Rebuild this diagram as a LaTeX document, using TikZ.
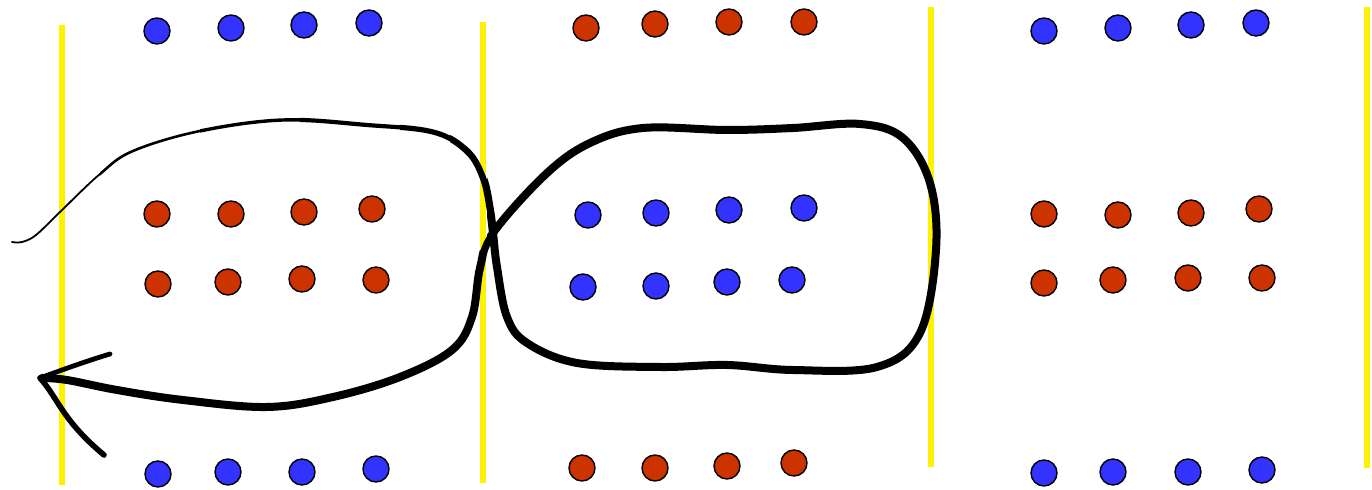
\documentclass[tikz,border=0pt]{standalone}
\begin{document}
\begin{tikzpicture}[x=0.5pt,y=-0.5pt,
  bdot/.style={circle,draw=black,line width=0.7pt,fill=dotblue,minimum size=13pt,inner sep=0pt},
  rdot/.style={circle,draw=black,line width=0.7pt,fill=dotred,minimum size=13pt,inner sep=0pt},
  wall/.style={draw=yellow,line width=3pt},
  loopline/.style={draw=black,line cap=round,line join=round}]
\definecolor{dotblue}{HTML}{3333FF}
\definecolor{dotred}{HTML}{CC3300}
\useasboundingbox (0,0) rectangle (1372,490);
\fill[white] (0,0) rectangle (1372,490);
% yellow walls
\coordinate (w1t) at (62,25); \coordinate (w1b) at (62,485);
\coordinate (w2t) at (483,22); \coordinate (w2b) at (483,483);
\coordinate (w3t) at (931,7); \coordinate (w3b) at (931,467);
\coordinate (w4t) at (1367,7); \coordinate (w4b) at (1367,468);
\draw[wall] (w1t) -- (w1b);
\draw[wall] (w2t) -- (w2b);
\draw[wall] (w3t) -- (w3b);
\draw[wall] (w4t) -- (w4b);
% left section
\foreach \i/\x/\y in {1/157/31,2/231/28,3/304/25,4/369/23} \node[bdot] (lt\i) at (\x,\y) {};
\foreach \i/\x/\y in {1/157/214,2/231/214,3/304/212,4/372/209} \node[rdot] (lm\i) at (\x,\y) {};
\foreach \i/\x/\y in {1/158/284,2/228/282,3/302/279,4/376/280} \node[rdot] (ln\i) at (\x,\y) {};
\foreach \i/\x/\y in {1/158/474,2/228/472,3/302/472,4/376/469} \node[bdot] (lb\i) at (\x,\y) {};
% middle section
\foreach \i/\x/\y in {1/586/28,2/655/24,3/729/22,4/804/22} \node[rdot] (mt\i) at (\x,\y) {};
\foreach \i/\x/\y in {1/588/215,2/656/213,3/729/210,4/804/208} \node[bdot] (mm\i) at (\x,\y) {};
\foreach \i/\x/\y in {1/583/287,2/656/286,3/727/282,4/792/280} \node[bdot] (mn\i) at (\x,\y) {};
\foreach \i/\x/\y in {1/582/468,2/655/468,3/727/466,4/794/463} \node[rdot] (mb\i) at (\x,\y) {};
% right section
\foreach \i/\x/\y in {1/1044/31,2/1118/28,3/1191/25,4/1256/23} \node[bdot] (rt\i) at (\x,\y) {};
\foreach \i/\x/\y in {1/1044/214,2/1118/215,3/1191/213,4/1259/209} \node[rdot] (rm\i) at (\x,\y) {};
\foreach \i/\x/\y in {1/1044/283,2/1113/280,3/1188/278,4/1262/278} \node[rdot] (rn\i) at (\x,\y) {};
\foreach \i/\x/\y in {1/1044/473,2/1113/472,3/1188/472,4/1262/470} \node[bdot] (rb\i) at (\x,\y) {};
% the looping path, growing thicker along its way
\def\looppath{plot[smooth,tension=0.6] coordinates {(12,242) (22,242) (36,235) (60,212) (100,174) (133,151) (200,131) (283,120) (367,125) (433,132) (467,151) (483,178) (490,210) (493,233) (497,267) (507,317) (527,343) (577,363) (660,367) (727,365) (793,370) (877,367) (920,333) (936,250) (930,183) (903,138) (860,124) (793,128) (727,130) (643,128) (590,143) (546,174) (493,233) (480,268) (472,317) (452,350) (400,377) (333,397) (267,407) (183,400) (117,390) (67,380) (42,378)}}
\begin{scope}
  \clip (487,0) rectangle (1372,490) (0,250) rectangle (487,490);
  \draw[loopline,line width=4pt] \looppath;
\end{scope}
\foreach \xa/\xb/\w in {0/100/0.9,100/200/1.3,200/300/1.7,300/400/2.1,400/450/2.6,450/487/3.2}{
  \begin{scope}
    \clip (\xa,0) rectangle (\xb,250);
    \draw[loopline,line width=\w pt] \looppath;
  \end{scope}
}
% arrow head barbs
\coordinate (tip) at (40,378);
\draw[loopline,line width=2.4pt] (tip) .. controls (70,367) and (90,360) .. (110,354);
\draw[loopline,line width=2.8pt] (tip) .. controls (58,398) and (62,420) .. (104,455);
\end{tikzpicture}
\end{document}
